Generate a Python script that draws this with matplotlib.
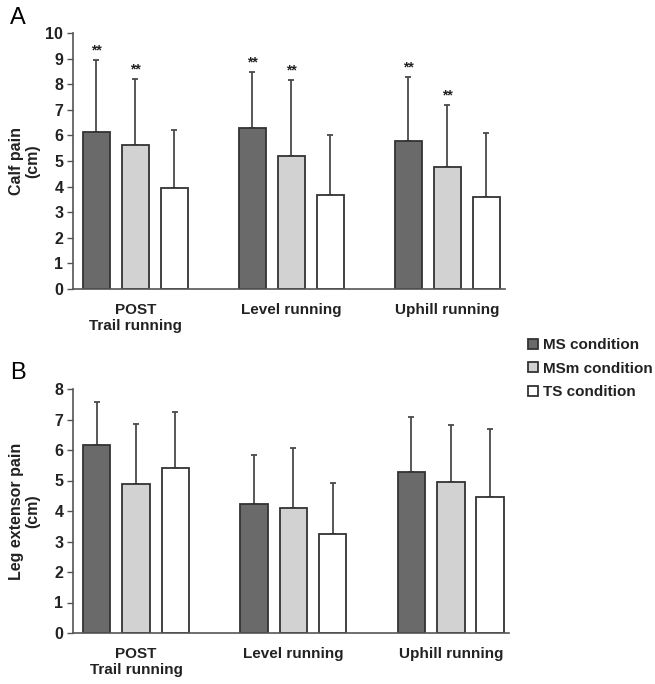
import matplotlib
matplotlib.use("Agg")
import matplotlib.pyplot as plt
import numpy as np

plt.rcParams['font.family'] = ['Liberation Sans', 'DejaVu Sans']

groups = ["POST\nTrail running", "Level running", "Uphill running"]
conditions = ["MS condition", "MSm condition", "TS condition"]
colors = ["#6a6a6a", "#d2d2d2", "#ffffff"]

# Panel A: calf pain (cm)
calf_mean = {"MS condition": [6.12, 6.27, 5.80],
             "MSm condition": [5.61, 5.21, 4.75],
             "TS condition": [3.96, 3.69, 3.60]}
calf_sd = {"MS condition": [2.84, 2.22, 2.49],
           "MSm condition": [2.60, 2.96, 2.45],
           "TS condition": [2.25, 2.33, 2.48]}
calf_sig = {"MS condition": ["**", "**", "**"],
            "MSm condition": ["**", "**", "**"],
            "TS condition": ["", "", ""]}

# Panel B: leg extensor pain (cm)
leg_mean = {"MS condition": [6.18, 4.23, 5.28],
            "MSm condition": [4.89, 4.10, 4.96],
            "TS condition": [5.41, 3.24, 4.47]}
leg_sd = {"MS condition": [1.40, 1.60, 1.80],
          "MSm condition": [1.97, 1.97, 1.86],
          "TS condition": [1.82, 1.69, 2.23]}

W, H = 655, 684
fig = plt.figure(figsize=(W / 100, H / 100), dpi=100)

def ax_rect(x0, y0, x1, y1):
    return [x0 / W, 1 - y1 / H, (x1 - x0) / W, (y1 - y0) / H]

axA = fig.add_axes(ax_rect(73, 33, 505, 289))
axB = fig.add_axes(ax_rect(73, 389, 509, 633))

x = np.arange(len(groups))
step = 0.25
width = 0.175
edge = "#333333"

def draw(ax, means, sds, ymax, ylabel, sig=None):
    for i, c in enumerate(conditions):
        pos = x + (i - 1) * step
        m = np.array(means[c])
        s = np.array(sds[c])
        ax.bar(pos, m, width, color=colors[i], edgecolor=edge, linewidth=1.3,
               label=c, zorder=2)
        ax.errorbar(pos, m, yerr=[np.zeros_like(s), s], fmt='none',
                    ecolor="#4a4a4a", elinewidth=1.3, capsize=2, capthick=1.3,
                    zorder=1)
        if sig is not None:
            for p, mm, ss, t in zip(pos, m, s, sig[c]):
                if t:
                    ax.text(p, mm + ss + 0.1, t, ha='center', va='bottom',
                            fontsize=10, fontweight='bold', color="#222222")
    ax.set_xlim(-0.4, 2.37)
    ax.set_ylim(0, ymax)
    ax.set_yticks(range(0, ymax + 1))
    ax.set_xticks(x)
    ax.set_xticklabels(groups, fontsize=11, fontweight='bold', color="#222222")
    ax.tick_params(axis='x', length=0, pad=10)
    ax.tick_params(axis='y', length=4, width=1, color="#555555", labelsize=11.5,
                   pad=3, labelcolor="#222222")
    for lab in ax.get_yticklabels():
        lab.set_fontweight('bold')
    for sp in ['top', 'right']:
        ax.spines[sp].set_visible(False)
    for sp in ['left', 'bottom']:
        ax.spines[sp].set_color("#555555")
        ax.spines[sp].set_linewidth(1.2)
    ax.set_ylabel(ylabel, fontsize=11.5, fontweight='bold', color="#222222",
                  linespacing=1.1)
    bbox = ax.get_position()
    right_px = 40
    ax.yaxis.set_label_coords((right_px / W - bbox.x0) / bbox.width, 0.5)

draw(axA, calf_mean, calf_sd, 10, "Calf pain\n(cm)", calf_sig)
draw(axB, leg_mean, leg_sd, 8, "Leg extensor pain\n(cm)")

fig.text(10 / W, 1 - 18 / H, "A", fontsize=17, va='center', ha='left')
fig.text(10 / W, 1 - 373 / H, "B", fontsize=17, va='center', ha='left')

handles, labels = axA.get_legend_handles_labels()
leg = fig.legend(handles, labels, loc='upper left',
                 bbox_to_anchor=(522 / W, 1 - 332 / H), frameon=False,
                 prop={'size': 11, 'weight': 'bold'}, handlelength=0.65,
                 handleheight=0.65, handletextpad=0.35, labelspacing=0.62,
                 borderaxespad=0)
for t in leg.get_texts():
    t.set_color("#222222")

fig.savefig("out.png", dpi=100)
